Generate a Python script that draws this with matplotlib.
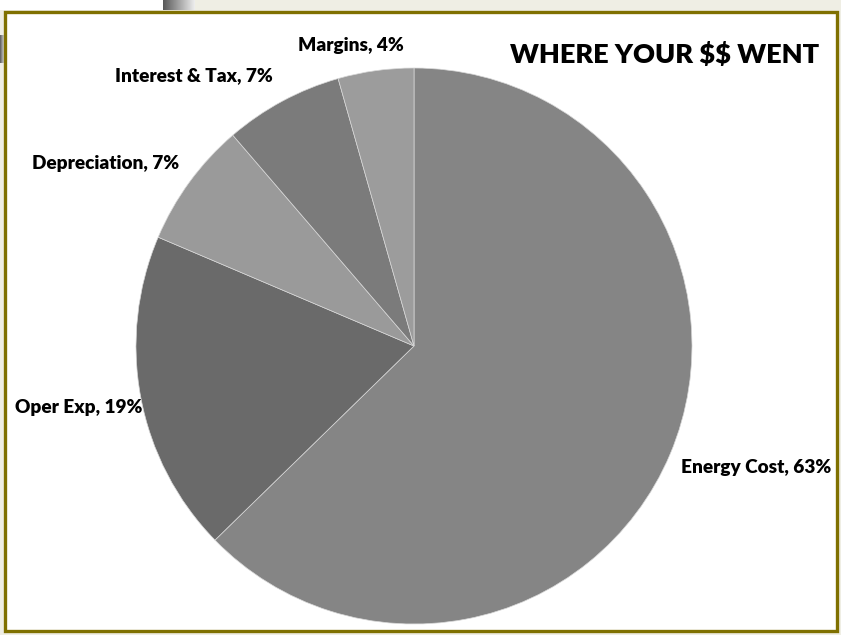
import matplotlib
matplotlib.use("Agg")
import matplotlib.pyplot as plt
from matplotlib.patches import Rectangle
import numpy as np

# Data
categories = ["Energy Cost", "Oper Exp", "Depreciation", "Interest & Tax", "Margins"]
values = [62.7, 18.7, 7.3, 6.9, 4.4]
colors = ["#858585", "#6a6a6a", "#9a9a9a", "#7b7b7b", "#9c9c9c"]
title = "WHERE YOUR $$ WENT"

W, H = 841, 635
fig = plt.figure(figsize=(W / 100, H / 100), dpi=100)
fig.patch.set_facecolor("#efeee4")
ax = fig.add_axes([0, 0, 1, 1])
ax.set_facecolor("none")

# decorative background bits (gradient blocks)
grad = np.linspace(0.35, 0.93, 64).reshape(1, -1)
ax.add_patch(Rectangle((0, H - 10), 163, 10, facecolor="white", edgecolor="none", zorder=0))
ax.imshow(grad, cmap="gray", vmin=0, vmax=1, extent=(163, 195, H - 10, H),
          aspect="auto", zorder=0)
ax.imshow(grad, cmap="gray", vmin=0, vmax=1, extent=(0, 5, H - 63, H - 35),
          aspect="auto", zorder=0)

# chart area with olive border
ax.add_patch(Rectangle((5.5, H - 631), 832, 619, facecolor="white",
                       edgecolor="#7f7000", linewidth=2.4, zorder=1))

wedges, _ = ax.pie(values, colors=colors, startangle=90, counterclock=False,
                   center=(414, H - 346), radius=278,
                   wedgeprops=dict(edgecolor="#d8d8d8", linewidth=0.5, zorder=2))
for w in wedges:
    w.set_zorder(2)

label_pos = [(756, 468), (79, 408), (106, 164), (194, 76), (351, 45)]
font = dict(family=["Lato", "DejaVu Sans"], weight="heavy", color="black")
for name, v, (x, y) in zip(categories, values, label_pos):
    ax.text(x, H - y, f"{name}, {round(v)}%", ha="center", va="center",
            fontsize=13.7, zorder=3, parse_math=False, **font)

ax.text(665, H - 55, title, ha="center", va="center", fontsize=19.5, zorder=3,
        parse_math=False, **font)

ax.set_xlim(0, W)
ax.set_ylim(0, H)
ax.set_aspect("equal")
ax.axis("off")
fig.savefig("out.png", dpi=100, facecolor=fig.get_facecolor())
